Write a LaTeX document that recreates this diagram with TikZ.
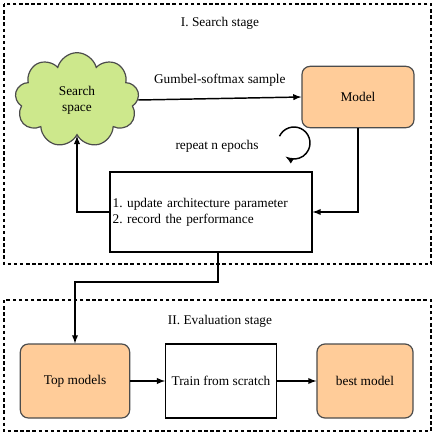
\documentclass[tikz,border=0pt]{standalone}
\usepackage{fontspec}
\setmainfont{Liberation Serif}
\usetikzlibrary{shapes.symbols}
\definecolor{peach}{RGB}{255,204,153}
\definecolor{leaf}{RGB}{205,232,140}
\frenchspacing

\begin{document}
\begin{tikzpicture}[x=0.75pt,y=-0.75pt,>=latex,line width=1.1pt,font=\rmfamily,
  stage/.style={draw,line width=0.9pt,dash pattern=on 2.6pt off 2pt},
  modelbox/.style={draw=black!70,line width=0.9pt,fill=peach,rounded corners=6pt,minimum height=55.5pt},
  plainbox/.style={draw,line width=0.9pt,minimum height=55.5pt}]
\useasboundingbox (0,0) rectangle (436,437);
\draw[stage] (4,4) rectangle (431,264);
\draw[stage] (4,300) rectangle (431,431);
\node (title1) at (220,23) {I. Search stage};
\node (title2) at (220,321) {II. Evaluation stage};
\node[cloud,cloud puffs=9,aspect=1.3,draw=black!70,line width=0.9pt,fill=leaf,minimum width=93pt,minimum height=71pt,align=center] (space) at (77,100) {Search\\space};
\node[modelbox,minimum width=84pt,minimum height=46pt] (model) at (358,97) {Model};
\node[draw,line width=0.9pt,minimum width=151.5pt,minimum height=60pt,text width=147.5pt,inner xsep=2pt,align=left] (update) at (211,212) {1. update architecture parameter\\2. record the performance};
\node (repeat) at (217,146) {repeat n epochs};
\node[modelbox,minimum width=82pt] (top) at (75,381) {Top models};
\node[plainbox,minimum width=83pt] (train) at (221,381) {Train from scratch};
\node[modelbox,minimum width=72pt] (best) at (365,381) {best model};
\coordinate (loop) at (294,143);
\coordinate (bend) at (218,282);
\draw[->] (space.east) -- node[above=5pt] {Gumbel-softmax sample} (model.west);
\draw[->] (model.south) |- (update.east);
\draw[->] (update.west) -| (space.south);
\draw[->] (update.south -| bend) -- (bend) -| (top.north);
\draw[->] (loop) ++(-155:16) arc[start angle=-155,end angle=122,radius=16];
\draw[->] (top) -- (train);
\draw[->] (train) -- (best);
\end{tikzpicture}
\end{document}
